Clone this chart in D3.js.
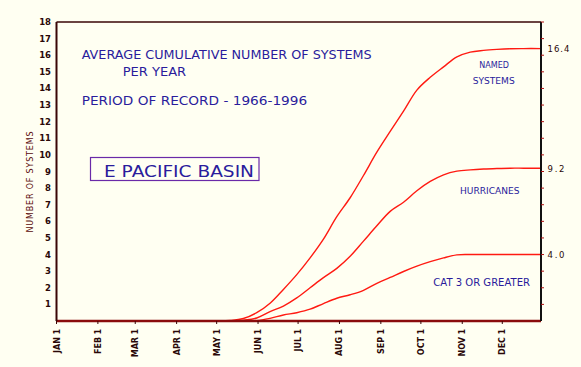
<!DOCTYPE html>
<html>
<head>
<meta charset="utf-8">
<script src="https://cdn.jsdelivr.net/npm/d3@7"></script>
<style>
  html, body { margin: 0; padding: 0; background: #fffff2; }
  svg { display: block; }
</style>
</head>
<body>
<script>
// ---- data ----
const days       = [0, 120, 130, 140, 150, 160, 170, 180, 190, 200, 210, 220, 230, 240, 250, 260, 270, 280, 290, 300, 310, 320, 330, 340, 350, 363];
const named      = [0, 0, 0.03, 0.15, 0.5, 1.07, 1.9, 2.79, 3.8, 4.93, 6.28, 7.42, 8.76, 10.16, 11.41, 12.63, 13.9, 14.67, 15.3, 15.9, 16.19, 16.29, 16.35, 16.39, 16.4, 16.4];
const hurricanes = [0, 0, 0.01, 0.05, 0.18, 0.56, 0.9, 1.39, 2.0, 2.61, 3.17, 3.9, 4.81, 5.73, 6.6, 7.15, 7.84, 8.4, 8.8, 9.02, 9.1, 9.15, 9.18, 9.2, 9.2, 9.2];
const cat3       = [0, 0, 0, 0, 0.02, 0.16, 0.36, 0.5, 0.71, 1.05, 1.37, 1.58, 1.85, 2.27, 2.62, 2.98, 3.3, 3.57, 3.8, 3.98, 4.0, 4.0, 4.0, 4.0, 4.0, 4.0];
const monthNames = ["JAN", "FEB", "MAR", "APR", "MAY", "JUN", "JUL", "AUG", "SEP", "OCT", "NOV", "DEC"];
const monthDays  = [0, 31, 59, 90, 120, 151, 181, 212, 243, 273, 304, 334];
const yTicks     = [1, 2, 3, 4, 5, 6, 7, 8, 9, 10, 11, 12, 13, 14, 15, 16, 17, 18];
const endLabels  = ["16.4", "9.2", "4.0"];
const endValues  = [16.4, 9.2, 4.0];

// ---- layout ----
const W = 581, H = 367;
const svg = d3.select("body").append("svg").attr("width", W).attr("height", H);
svg.append("rect").attr("width", W).attr("height", H).attr("fill", "#fffff2");

const x = d3.scaleLinear().domain([0, 363]).range([56.5, 541]);
const y = d3.scaleLinear().domain([0, 18]).range([321, 22]);

const axisCol = "#3a0606";
const textDark = "#2a0808";
const blue = "#2a1c9c";

// curves
const line = d3.line().x((d, i) => x(days[i])).y(d => y(Math.max(0, d))).curve(d3.curveCatmullRom.alpha(0.5));
[named, hurricanes, cat3].forEach(s => {
  svg.append("path").attr("d", line(s)).attr("fill", "none")
    .attr("stroke", "#ff1a12").attr("stroke-width", 1.4);
});

// frame
const g = svg.append("g");
g.append("line").attr("x1", x(0)).attr("x2", x(363)).attr("y1", y(18)).attr("y2", y(18))
  .attr("stroke", axisCol).attr("stroke-width", 1.5);
g.append("line").attr("x1", x(0)).attr("x2", x(363)).attr("y1", y(0)).attr("y2", y(0))
  .attr("stroke", "#8a0c0c").attr("stroke-width", 2.5);
g.append("line").attr("x1", x(0)).attr("x2", x(0)).attr("y1", y(18)).attr("y2", y(0))
  .attr("stroke", axisCol).attr("stroke-width", 2);
g.append("line").attr("x1", x(363)).attr("x2", x(363)).attr("y1", y(18)).attr("y2", y(0))
  .attr("stroke", "#111").attr("stroke-width", 2);

// right axis minor ticks
g.selectAll(".rt").data(yTicks).enter().append("line")
  .attr("x1", x(363)).attr("x2", x(363) + 3)
  .attr("y1", d => y(d)).attr("y2", d => y(d))
  .attr("stroke", "#b01010").attr("stroke-width", 1);

// left tick labels
g.selectAll(".yl").data(yTicks).enter().append("text")
  .attr("x", 51).attr("y", d => y(d) + 3)
  .attr("text-anchor", "end")
  .attr("font-family", "DejaVu Sans").attr("font-weight", "bold")
  .attr("font-size", 8.5).attr("fill", textDark)
  .text(d => d);

// y title
svg.append("text")
  .attr("transform", "translate(33,182) rotate(-90)")
  .attr("text-anchor", "middle")
  .attr("font-family", "DejaVu Sans").attr("font-size", 8)
  .attr("fill", "#5a0a0a")
  .attr("textLength", 101).attr("lengthAdjust", "spacing")
  .text("NUMBER OF SYSTEMS");

// month ticks and labels
monthDays.forEach((d, i) => {
  const xx = x(d);
  g.append("line").attr("x1", xx).attr("x2", xx).attr("y1", 321).attr("y2", 324)
    .attr("stroke", axisCol).attr("stroke-width", 1);
  svg.append("text")
    .attr("transform", `translate(${xx + 3},329) rotate(-90)`)
    .attr("text-anchor", "end")
    .attr("font-family", "DejaVu Sans").attr("font-weight", "bold")
    .attr("font-size", 8).attr("fill", textDark).text("1");
  svg.append("text")
    .attr("transform", `translate(${xx + 3},337) rotate(-90)`)
    .attr("text-anchor", "end")
    .attr("font-family", "DejaVu Sans").attr("font-weight", "bold")
    .attr("font-size", 8).attr("fill", textDark).text(monthNames[i]);
});

// end value labels
endValues.forEach((v, i) => {
  svg.append("text").attr("x", 547.5).attr("y", y(v) + 3.5)
    .attr("font-family", "DejaVu Sans").attr("font-size", 8.5)
    .attr("fill", textDark)
    .attr("textLength", endLabels[i].length === 4 ? 22 : 17).attr("lengthAdjust", "spacing")
    .text(endLabels[i]);
});

// blue texts
function blueText(t, x0, yb, len, size) {
  svg.append("text").attr("x", x0).attr("y", yb)
    .attr("font-family", "DejaVu Sans").attr("font-size", size)
    .attr("fill", blue)
    .attr("textLength", len).attr("lengthAdjust", "spacingAndGlyphs")
    .text(t);
}
blueText("AVERAGE CUMULATIVE NUMBER OF SYSTEMS", 81.7, 58.8, 290, 11.4);
blueText("PER YEAR", 122.7, 75.5, 63.5, 11.4);
blueText("PERIOD OF RECORD - 1966-1996", 81.7, 105.3, 225.5, 11.4);
blueText("E PACIFIC BASIN", 104, 176.5, 150, 16);
svg.append("rect").attr("x", 90.5).attr("y", 157.5).attr("width", 168.5).attr("height", 23)
  .attr("fill", "none").attr("stroke", "#6a2aa8").attr("stroke-width", 1.2);
blueText("NAMED", 479.3, 68.3, 29.7, 9);
blueText("SYSTEMS", 472.7, 84.3, 42, 9);
blueText("HURRICANES", 460, 194, 59.5, 9.5);
blueText("CAT 3 OR GREATER", 433.3, 285.7, 96.7, 10.5);
</script>
</body>
</html>
